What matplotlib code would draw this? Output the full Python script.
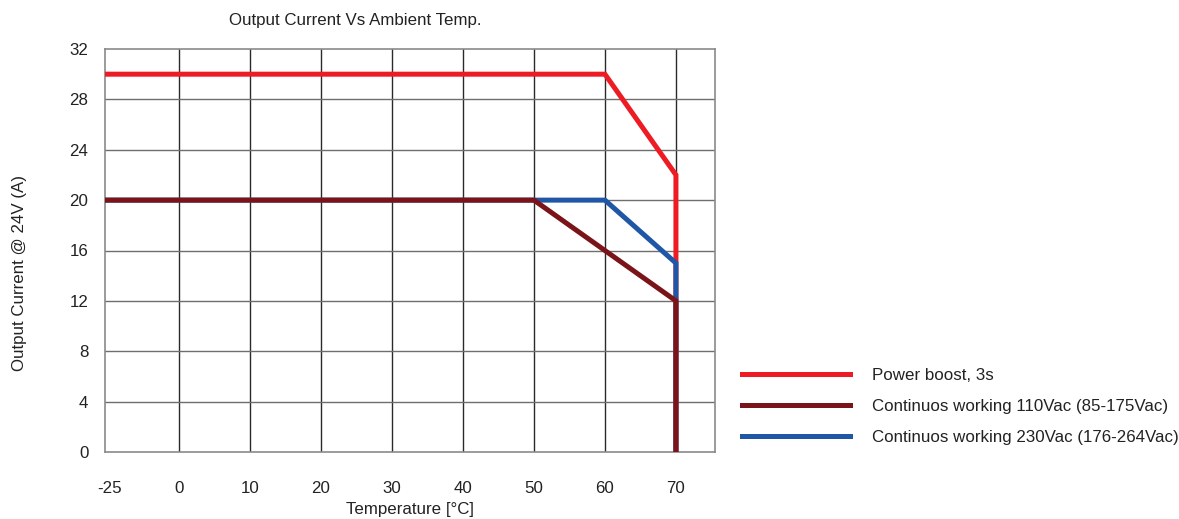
import matplotlib
matplotlib.use("Agg")
import matplotlib.pyplot as plt
import matplotlib.transforms as mtransforms

plt.rcParams['font.family'] = ['Liberation Sans', 'DejaVu Sans']

# Data
temps_boost = [-25, 60, 70, 70]
current_boost = [30, 30, 22, 0]
temps_110 = [-25, 50, 70, 70]
current_110 = [20, 20, 12, 0]
temps_230 = [-25, 50, 60, 70, 70]
current_230 = [20, 20, 20, 15, 0]
x_tick_labels = ["-25", "0", "10", "20", "30", "40", "50", "60", "70"]
x_tick_values = [-25, 0, 10, 20, 30, 40, 50, 60, 70]
y_ticks = [0, 4, 8, 12, 16, 20, 24, 28, 32]
labels = ["Power boost, 3s",
          "Continuos working 110Vac (85-175Vac)",
          "Continuos working 230Vac (176-264Vac)"]

LEFT = -10.4  # display position for -25 (axis is broken below 0)
FS = 12.2


def xpos(t):
    return t if t >= 0 else t * (-LEFT / 25.0)


fig = plt.figure(figsize=(11.79, 5.19), dpi=100)
ax = fig.add_axes([105 / 1179, (519 - 452) / 519, (715 - 105) / 1179, (452 - 49) / 519])

red = "#ED1C24"
dred = "#7A1418"
blue = "#1F57A6"
lw = 3.6

l1, = ax.plot([xpos(t) for t in temps_boost], current_boost, color=red, lw=lw,
              solid_joinstyle='miter', zorder=3)
l3, = ax.plot([xpos(t) for t in temps_230], current_230, color=blue, lw=lw,
              solid_joinstyle='miter', zorder=4)
l2, = ax.plot([xpos(t) for t in temps_110], current_110, color=dred, lw=lw,
              solid_joinstyle='miter', zorder=5)

ax.set_xlim(LEFT, 75.5)
ax.set_ylim(0, 32)

# grid
for t in x_tick_values[1:]:
    ax.axvline(xpos(t), color="#2a2a2a", lw=1.0, zorder=1)
for v in y_ticks[1:-1]:
    ax.axhline(v, color="#6e6e6e", lw=1.0, zorder=1)
for s in ax.spines.values():
    s.set_color("#8a8a8a")
    s.set_linewidth(1.2)

ax.set_xticks([xpos(t) for t in x_tick_values])
ax.set_xticklabels(x_tick_labels)
ax.set_yticks(y_ticks)
ax.tick_params(axis='both', length=0, labelsize=FS, colors="#222222")
ax.tick_params(axis='x', pad=21)
ax.tick_params(axis='y', pad=12)
# shift the "-25" label slightly right of the spine
offset = mtransforms.ScaledTranslation(5 / 100, 0, fig.dpi_scale_trans)
lab0 = ax.get_xticklabels()[0]
lab0.set_transform(lab0.get_transform() + offset)

ax.set_xlabel("Temperature [°C]", fontsize=FS, color="#222222", labelpad=4)
fig.text(20 / 1179, 1 - 273 / 519, "Output Current @ 24V (A)", rotation=90,
         fontsize=FS, color="#222222", ha='center', va='center')
fig.text(355 / 1179, 1 - 20 / 519, "Output Current Vs Ambient Temp.",
         fontsize=FS, color="#222222", ha='center', va='center')

leg = ax.legend([l1, l2, l3], labels, loc='upper left',
                bbox_to_anchor=(742 / 1179, 1 - 368 / 519),
                bbox_transform=fig.transFigure, frameon=False, fontsize=FS,
                handlelength=6.4, handletextpad=1.25, labelspacing=0.93,
                borderpad=0, borderaxespad=0)
for t in leg.get_texts():
    t.set_color("#222222")

fig.savefig("out.png", dpi=100)
